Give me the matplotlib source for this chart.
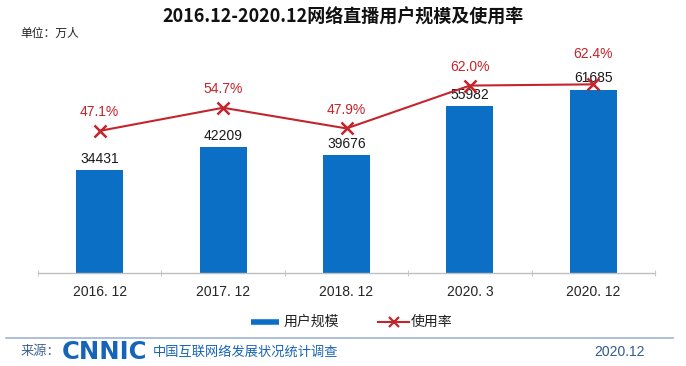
import matplotlib
matplotlib.use("Agg")
from matplotlib import pyplot as plt

# 数据
periods = ["2016. 12", "2017. 12", "2018. 12", "2020. 3", "2020. 12"]
users = [34431, 42209, 39676, 55982, 61685]          # 用户规模（万人）
usage_rate = [47.1, 54.7, 47.9, 62.0, 62.4]           # 使用率（%）

BAR_BLUE = "#0b6fc6"
LINE_RED = "#c4242b"
CJK = ["Noto Sans CJK SC", "DejaVu Sans"]
NUM = ["Liberation Sans", "DejaVu Sans"]

W, H = 686, 366
fig = plt.figure(figsize=(W / 100, H / 100), dpi=100, facecolor="white")

# 绘图区（像素换算）
left, right, top, bottom = 38, 655, 50, 272.5
ax1 = fig.add_axes([left / W, 1 - bottom / H, (right - left) / W, (bottom - top) / H])
ax1.patch.set_alpha(0)

x = list(range(len(periods)))
ax1.bar(x, users, width=0.38, color=BAR_BLUE, zorder=2)
ax1.set_xlim(-0.5, len(periods) - 0.5)
ax1.set_ylim(0, 75000)

for spine in ["top", "right", "left"]:
    ax1.spines[spine].set_visible(False)
ax1.spines["bottom"].set_color("#bfbfbf")
ax1.spines["bottom"].set_linewidth(1.0)
ax1.set_yticks([])
ax1.set_xticks(x)
ax1.set_xticklabels(periods, fontfamily=NUM, fontsize=10, color="#262626")
ax1.tick_params(axis="x", which="major", length=0, pad=9)
ax1.set_xticks([i - 0.5 for i in range(len(periods) + 1)], minor=True)
ax1.tick_params(axis="x", which="minor", length=4, color="#bfbfbf", direction="inout")

for xi, v in zip(x, users):
    ax1.annotate(str(v), (xi, v), xytext=(0, 8), textcoords="offset points",
                 ha="center", va="center", fontsize=10, fontfamily=NUM, color="#1a1a1a", zorder=5)

# 使用率折线（次坐标）
ax2 = ax1.twinx()
ax2.set_ylim(0.5, 73.7)
ax2.axis("off")
ax2.plot(x, usage_rate, color=LINE_RED, lw=1.5, marker="x", ms=8, mew=1.8, zorder=4)
for i, (xi, r) in enumerate(zip(x, usage_rate)):
    dy = 21.5 if i == len(x) - 1 else 13.5
    ax2.annotate(f"{r:.1f}%", (xi, r), xytext=(0, dy), textcoords="offset points",
                 ha="center", va="center", fontsize=10, fontfamily=NUM, color=LINE_RED)

# 标题和单位
fig.text(0.5, 1 - 17 / H, "2016.12-2020.12网络直播用户规模及使用率", ha="center", va="center",
         fontsize=13, fontweight="bold", fontfamily=CJK, color="#111111")
fig.text(20 / W, 1 - 33 / H, "单位：万人", ha="left", va="center",
         fontsize=8.5, fontfamily=CJK, color="#222222")

# 图例
ly = 1 - 322 / H
fig.add_artist(plt.Line2D([251 / W, 279 / W], [ly, ly], color=BAR_BLUE, lw=4, solid_capstyle="butt"))
fig.text(284 / W, ly, "用户规模", ha="left", va="center", fontsize=10, fontfamily=CJK, color="#222222")
fig.add_artist(plt.Line2D([378 / W, 409 / W], [ly, ly], color=LINE_RED, lw=1.5))
fig.add_artist(plt.Line2D([393.5 / W], [ly], color=LINE_RED, marker="x", ms=7, mew=1.6))
fig.text(411 / W, ly, "使用率", ha="left", va="center", fontsize=10, fontfamily=CJK, color="#222222")

# 页脚
fy = 1 - 338 / H
fig.add_artist(plt.Line2D([6 / W, 673 / W], [fy, fy], color="#9db3d3", lw=1.2))
ty = 1 - 352 / H
fig.text(21 / W, ty, "来源：", ha="left", va="center", fontsize=9.5, fontfamily=CJK, color="#3d6390")
fig.text(62 / W, ty, "CNNIC", ha="left", va="center", fontsize=17.5, fontweight="heavy",
         fontfamily=["DejaVu Sans"], color="#1664b8")
fig.text(153 / W, ty, "中国互联网络发展状况统计调查", ha="left", va="center",
         fontsize=9.5, fontfamily=CJK, color="#1664b8")
fig.text(645 / W, ty, "2020.12", ha="right", va="center", fontsize=10, fontfamily=NUM, color="#2f5b8f")

fig.savefig("out.png", dpi=100, facecolor="white")
